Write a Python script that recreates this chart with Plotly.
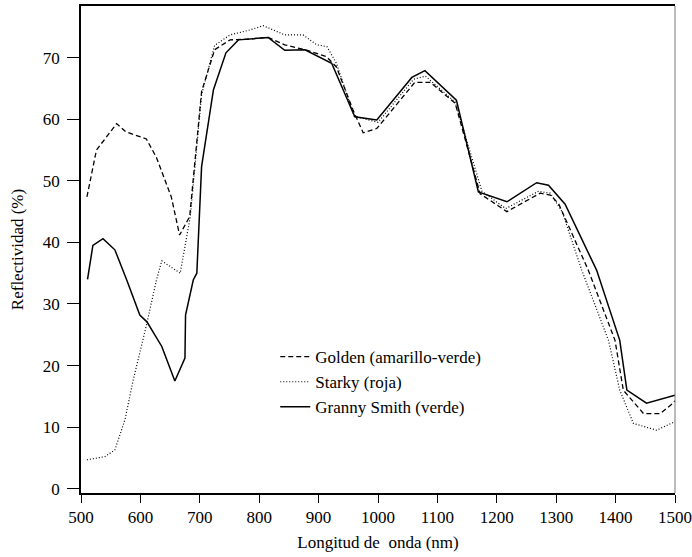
import plotly.graph_objects as go

# Golden (amarillo-verde) - dashed
golden_nm = [510, 526, 560, 575, 610, 627, 652, 666, 683, 703, 725, 751, 779, 815, 843,
             877, 913, 930, 958, 975, 998, 1062, 1088, 1130, 1172, 1217, 1273, 1290, 1304,
             1354, 1399, 1413, 1447, 1475, 1497, 1500]
golden_pct = [47.4, 55.0, 59.3, 58.0, 56.8, 53.8, 47.4, 41.2, 44.2, 64.5, 71.3, 72.9, 73.0, 73.3, 72.1,
              71.3, 70.2, 68.5, 61.5, 57.8, 58.5, 66.0, 66.0, 62.6, 47.9, 45.0, 48.0, 47.7, 46.3,
              35.5, 24.1, 16.0, 12.2, 12.2, 13.9, 14.3]

# Starky (roja) - dotted
starky_nm = [510, 540, 557, 574, 588, 611, 627, 636, 667, 684, 703, 725, 751, 784, 807, 843,
             874, 897, 914, 930, 960, 1000, 1060, 1080, 1130, 1175, 1215, 1270, 1290, 1310,
             1343, 1388, 1407, 1430, 1469, 1500]
starky_pct = [4.7, 5.2, 6.3, 11.2, 17.7, 26.9, 33.9, 37.0, 35.0, 44.2, 64.0, 72.0, 73.7, 74.5, 75.2, 73.7,
              73.7, 72.1, 71.8, 69.1, 60.5, 59.5, 66.5, 67.0, 62.8, 48.3, 45.5, 48.3, 48.0, 45.0,
              35.5, 24.1, 16.0, 10.6, 9.5, 10.9]

# Granny Smith (verde) - solid
granny_nm = [511, 520, 537, 557, 577, 599, 611, 636, 658, 675, 676, 689, 695, 703, 723, 744,
             765, 815, 843, 877, 922, 961, 998, 1057, 1079, 1132, 1169, 1217, 1267, 1287,
             1315, 1368, 1407, 1419, 1452, 1500]
granny_pct = [34.0, 39.5, 40.6, 38.8, 33.9, 28.2, 27.1, 23.1, 17.5, 21.2, 28.2, 33.9, 35.0, 52.3, 64.8, 70.8,
              72.9, 73.3, 71.2, 71.3, 69.1, 60.4, 59.9, 66.8, 67.9, 63.1, 48.2, 46.6, 49.7, 49.3,
              46.2, 35.5, 24.1, 16.0, 13.9, 15.2]

x_ticks = [500, 600, 700, 800, 900, 1000, 1100, 1200, 1300, 1400, 1500]
y_ticks = [0, 10, 20, 30, 40, 50, 60, 70]

FONT = "Times New Roman"

fig = go.Figure()
fig.add_trace(go.Scatter(x=golden_nm, y=golden_pct, mode="lines",
                         name="Golden (amarillo-verde)",
                         line=dict(color="black", width=1.3, dash="5px,3px")))
fig.add_trace(go.Scatter(x=starky_nm, y=starky_pct, mode="lines",
                         name="Starky (roja)",
                         line=dict(color="black", width=1.2, dash="1px,2px")))
fig.add_trace(go.Scatter(x=granny_nm, y=granny_pct, mode="lines",
                         name="Granny Smith (verde)",
                         line=dict(color="black", width=1.5)))

fig.update_layout(
    width=692, height=557,
    margin=dict(l=81, r=17, t=6, b=64),
    paper_bgcolor="white", plot_bgcolor="white",
    font=dict(family=FONT, size=17, color="black"),
    showlegend=True,
    legend=dict(x=0.327, y=0.316, xanchor="left", yanchor="top",
                bgcolor="rgba(0,0,0,0)", borderwidth=0,
                font=dict(family=FONT, size=17), itemwidth=30,
                tracegroupgap=0),
    xaxis=dict(range=[500, 1500], tickvals=x_ticks, ticktext=[str(v) for v in x_ticks],
               showgrid=False, zeroline=False, showline=True, linecolor="black",
               linewidth=1.5, mirror=True, ticks="outside", ticklen=8, tickwidth=1,
               tickcolor="black", ticklabelstandoff=0, automargin=False,
               tickfont=dict(family=FONT, size=17),
               title=dict(text="Longitud de  onda (nm)", standoff=10,
                          font=dict(family=FONT, size=17))),
    yaxis=dict(range=[-0.7, 78.4], tickvals=y_ticks, ticktext=[str(v) for v in y_ticks],
               showgrid=False, zeroline=False, showline=True, linecolor="black",
               linewidth=1.5, ticks="outside", ticklen=12, tickwidth=1,
               tickcolor="black", ticklabelstandoff=4, automargin=False,
               tickfont=dict(family=FONT, size=17),
               title=dict(text="Reflectividad (%)", standoff=15,
                          font=dict(family=FONT, size=17))),
    shapes=[dict(type="line", xref="paper", yref="paper", x0=1, x1=1, y0=0, y1=1,
                 line=dict(color="#777777", width=1))],
)

fig.write_html("out.html", config={"displayModeBar": False},
               post_script="document.body.style.margin='0';document.body.style.padding='0';")
